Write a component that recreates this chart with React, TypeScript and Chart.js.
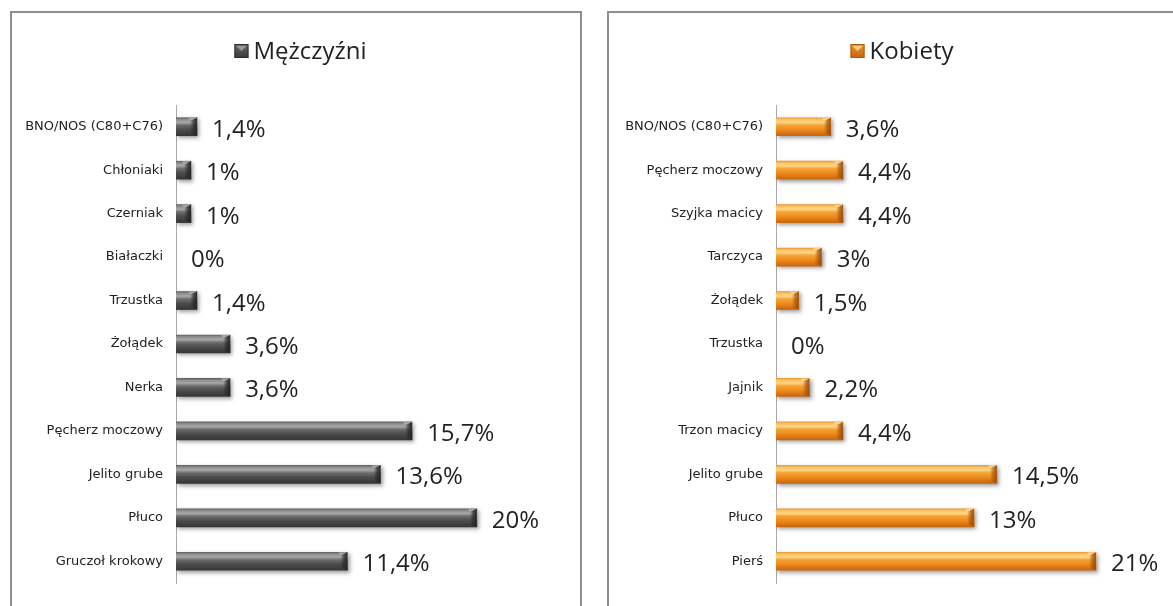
import React, { useEffect, useRef } from "react";
import { Chart, registerables } from "chart.js";

Chart.register(...registerables);

const maleSeriesName = "Mężczyźni";
const maleCategories = [
  "BNO/NOS (C80+C76)",
  "Chłoniaki",
  "Czerniak",
  "Białaczki",
  "Trzustka",
  "Żołądek",
  "Nerka",
  "Pęcherz moczowy",
  "Jelito grube",
  "Płuco",
  "Gruczoł krokowy",
];
const maleValues = [1.4, 1, 1, 0, 1.4, 3.6, 3.6, 15.7, 13.6, 20, 11.4];

const femaleSeriesName = "Kobiety";
const femaleCategories = [
  "BNO/NOS (C80+C76)",
  "Pęcherz moczowy",
  "Szyjka macicy",
  "Tarczyca",
  "Żołądek",
  "Trzustka",
  "Jajnik",
  "Trzon macicy",
  "Jelito grube",
  "Płuco",
  "Pierś",
];
const femaleValues = [3.6, 4.4, 4.4, 3, 1.5, 0, 2.2, 4.4, 14.5, 13, 21];

const axisMin = 0;
const axisMax = 25;

type Palette = {
  stops: [number, string][];
  flat: string;
  bevelDark: string;
  bevelLight: string;
  legendTop: string;
  legendBottom: string;
  legendTri: string;
  legendStroke: string;
};

const grayPalette: Palette = {
  stops: [
    [0, "#626262"],
    [0.1, "#8e8e8e"],
    [0.26, "#a8a8a8"],
    [0.42, "#6c6c6c"],
    [0.65, "#4d4d4d"],
    [1, "#363636"],
  ],
  flat: "#555555",
  bevelDark: "#262626",
  bevelLight: "#b8b8b8",
  legendTop: "#6a6a6a",
  legendBottom: "#3a3a3a",
  legendTri: "#9a9a9a",
  legendStroke: "#2f2f2f",
};

const orangePalette: Palette = {
  stops: [
    [0, "#ef9a34"],
    [0.1, "#fbc265"],
    [0.26, "#fed686"],
    [0.42, "#f5a232"],
    [0.65, "#ee8c1e"],
    [1, "#c8660e"],
  ],
  flat: "#ee8c1e",
  bevelDark: "#a0500a",
  bevelLight: "#ffe0a0",
  legendTop: "#f09a30",
  legendBottom: "#c4620c",
  legendTri: "#fdd27a",
  legendStroke: "#b0580c",
};

type Geom = {
  width: number;
  height: number;
  padTop: number;
  padRight: number;
  padBottom: number;
  yWidth: number;
  legendCX: number;
  legendBaseline: number;
};

const fmt = (v: number) => String(v).replace(".", ",") + "%";

function buildChart(
  canvas: HTMLCanvasElement,
  cats: string[],
  vals: number[],
  seriesName: string,
  pal: Palette,
  geom: Geom
) {
  const barPlugin = {
    id: "barDecor",
    beforeDatasetsDraw(chart: any) {
      const ctx = chart.ctx;
      ctx.save();
      ctx.shadowColor = "rgba(0,0,0,0.38)";
      ctx.shadowBlur = 4;
      ctx.shadowOffsetX = 2;
      ctx.shadowOffsetY = 2;
    },
    afterDatasetsDraw(chart: any) {
      const ctx = chart.ctx;
      ctx.restore();
      const meta = chart.getDatasetMeta(0);
      const data = chart.data.datasets[0].data as number[];
      meta.data.forEach((el: any, i: number) => {
        const { x, y, base, height } = el.getProps(["x", "y", "base", "height"], true);
        if (![x, y, base, height].every((n) => Number.isFinite(n))) return;
        const top = y - height / 2;
        const bottom = y + height / 2;
        if (x - base > 4) {
          const w = Math.min(7, (x - base) / 2);
          ctx.save();
          ctx.beginPath();
          ctx.moveTo(x - w, top + 3);
          ctx.lineTo(x, top);
          ctx.lineTo(x, bottom);
          ctx.lineTo(x - w, bottom - 2);
          ctx.closePath();
          const g = ctx.createLinearGradient(x - w, 0, x, 0);
          g.addColorStop(0, pal.bevelDark + "00");
          g.addColorStop(0.5, pal.bevelDark + "aa");
          g.addColorStop(1, pal.bevelDark);
          ctx.fillStyle = g;
          ctx.fill();
          ctx.beginPath();
          ctx.moveTo(x - w - 2, top);
          ctx.lineTo(x, top);
          ctx.lineTo(x - w, top + 3);
          ctx.closePath();
          ctx.fillStyle = pal.bevelLight;
          ctx.globalAlpha = 0.7;
          ctx.fill();
          ctx.restore();
        }
        ctx.save();
        ctx.font = "24px 'Open Sans'";
        ctx.fillStyle = "#222222";
        ctx.textAlign = "left";
        ctx.textBaseline = "alphabetic";
        ctx.fillText(fmt(data[i]), x + 15, y + 10);
        ctx.restore();
      });
    },
  };

  const legendPlugin = {
    id: "seriesKey",
    afterDraw(chart: any) {
      const ctx = chart.ctx;
      ctx.save();
      ctx.font = "24px 'Open Sans'";
      const box = 14;
      const gap = 5;
      const tw = ctx.measureText(seriesName).width;
      const total = box + gap + tw;
      const x0 = geom.legendCX - total / 2;
      const by = geom.legendBaseline - 15;
      const g = ctx.createLinearGradient(0, by, 0, by + box);
      g.addColorStop(0, pal.legendTop);
      g.addColorStop(1, pal.legendBottom);
      ctx.fillStyle = g;
      ctx.fillRect(x0, by, box, box);
      ctx.beginPath();
      ctx.moveTo(x0 + 2, by + 2);
      ctx.lineTo(x0 + box - 2, by + 2);
      ctx.lineTo(x0 + box / 2, by + 7);
      ctx.closePath();
      ctx.fillStyle = pal.legendTri;
      ctx.fill();
      ctx.strokeStyle = pal.legendStroke;
      ctx.lineWidth = 1;
      ctx.strokeRect(x0 + 0.5, by + 0.5, box - 1, box - 1);
      ctx.fillStyle = "#222222";
      ctx.textBaseline = "alphabetic";
      ctx.textAlign = "left";
      ctx.fillText(seriesName, x0 + box + gap, geom.legendBaseline);
      ctx.restore();
    },
  };

  return new Chart(canvas, {
    type: "bar",
    data: {
      labels: cats,
      datasets: [
        {
          label: seriesName,
          data: vals,
          barThickness: 18,
          borderWidth: 0,
          backgroundColor: (c: any) => {
            const chart = c.chart;
            const ys = chart.scales && chart.scales.y;
            if (c.type === "data" && !c.raw) return "rgba(0,0,0,0)";
            if (!ys || c.type !== "data") return pal.flat;
            const yc = ys.getPixelForValue(c.dataIndex);
            if (!Number.isFinite(yc)) return pal.flat;
            const g = chart.ctx.createLinearGradient(0, yc - 9, 0, yc + 9);
            pal.stops.forEach(([o, col]) => g.addColorStop(o, col));
            return g;
          },
        },
      ],
    },
    options: {
      indexAxis: "y",
      responsive: false,
      animation: false,
      layout: {
        padding: { left: 0, right: geom.padRight, top: geom.padTop, bottom: geom.padBottom },
      },
      plugins: {
        tooltip: { enabled: false },
        legend: { display: false },
      },
      scales: {
        x: {
          type: "linear",
          display: false,
          min: axisMin,
          max: axisMax,
        },
        y: {
          type: "category",
          ticks: {
            color: "#222222",
            padding: 13,
            font: { family: "'DejaVu Sans'", size: 13 },
          },
          grid: { display: false, drawTicks: false },
          border: { display: true, color: "#a8a8a8", width: 1 },
          afterFit: (s: any) => {
            s.width = geom.yWidth;
          },
        },
      },
    } as any,
    plugins: [barPlugin, legendPlugin],
  });
}

const leftGeom: Geom = {
  width: 568,
  height: 593,
  padTop: 92,
  padRight: 28,
  padBottom: 23,
  yWidth: 164,
  legendCX: 288.5,
  legendBaseline: 46,
};

const rightGeom: Geom = {
  width: 564,
  height: 593,
  padTop: 92,
  padRight: 16,
  padBottom: 23,
  yWidth: 167,
  legendCX: 293,
  legendBaseline: 46,
};

export default function App() {
  const leftRef = useRef<HTMLCanvasElement>(null);
  const rightRef = useRef<HTMLCanvasElement>(null);

  useEffect(() => {
    const a = buildChart(leftRef.current!, maleCategories, maleValues, maleSeriesName, grayPalette, leftGeom);
    const b = buildChart(rightRef.current!, femaleCategories, femaleValues, femaleSeriesName, orangePalette, rightGeom);
    return () => {
      a.destroy();
      b.destroy();
    };
  }, []);

  const panel: React.CSSProperties = {
    position: "absolute",
    top: 11,
    height: 640,
    border: "2px solid #8e8e8e",
    boxSizing: "border-box",
    background: "#ffffff",
  };

  return (
    <div
      style={{
        position: "fixed",
        left: 0,
        top: 0,
        width: 1173,
        height: 606,
        overflow: "hidden",
        background: "#ffffff",
      }}
    >
      <div style={{ ...panel, left: 10, width: 572 }}>
        <canvas ref={leftRef} width={leftGeom.width} height={leftGeom.height} style={{ display: "block" }} />
      </div>
      <div style={{ ...panel, left: 607, width: 600 }}>
        <canvas ref={rightRef} width={rightGeom.width} height={rightGeom.height} style={{ display: "block" }} />
      </div>
    </div>
  );
}
